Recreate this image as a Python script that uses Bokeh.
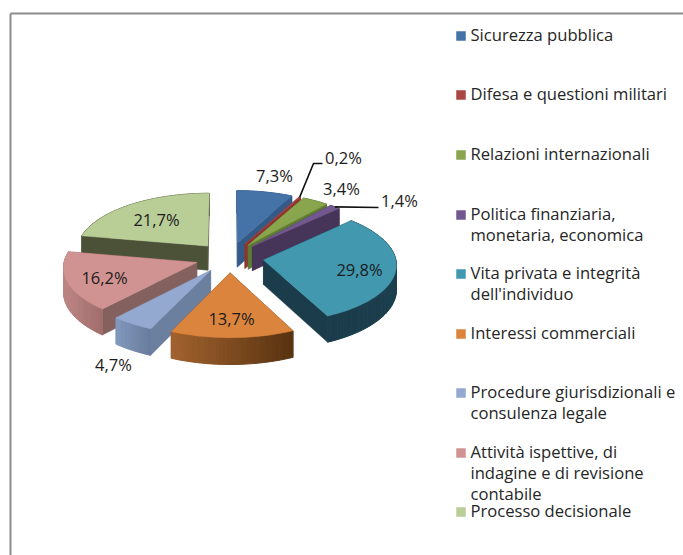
import math
from bokeh.plotting import figure
from bokeh.models import Range1d
from bokeh.core.properties import value
from bokeh.embed import file_html
from bokeh.resources import INLINE

# ---- data ----
categories = ["Sicurezza pubblica", "Difesa e questioni militari", "Relazioni internazionali",
              "Politica finanziaria, monetaria, economica", "Vita privata e integrità dell'individuo",
              "Interessi commerciali", "Procedure giurisdizionali e consulenza legale",
              "Attività ispettive, di indagine e di revisione contabile", "Processo decisionale"]
shares = [7.3, 0.2, 3.4, 1.4, 29.8, 13.7, 4.7, 16.2, 21.7]
share_labels = ["7,3%", "0,2%", "3,4%", "1,4%", "29,8%", "13,7%", "4,7%", "16,2%", "21,7%"]

# ---- styles ----
top_colors = ["#4572a7", "#aa4643", "#89a54e", "#71588f", "#4198af", "#db843d", "#93a9cf", "#d19392", "#b9cd96"]
side_colors = ["#345a88", "#8a3633", "#5f7a33", "#463459", "#1b3c4a", "#5a3510", "#6b7f9f", "#84605f", "#4c5238"]
rim_left = ["#345a88", "#8a3633", "#5f7a33", "#463459", "#1b3c4a", "#a2622e", "#8298bd", "#bd8685", "#4c5238"]
rim_right = ["#345a88", "#8a3633", "#5f7a33", "#463459", "#1c3f4e", "#573310", "#687b9c", "#a06d6c", "#4c5238"]

# ---- layout ----
W, H = 683, 555
CX, CY, RX, RY = 229.0, 257.0, 132.0, 58.0
EXPLODE, PERSP, DEPTH = 0.26, 0.07, 24.5
draw_order = [8, 0, 1, 2, 3, 4, 7, 6, 5]
label_pos = [(274, 175), (343, 157), (341, 188), (399, 200), (359, 269), (231, 318), (113, 364), (104, 277), (156, 219)]
legend_lines = [["Sicurezza pubblica"], ["Difesa e questioni militari"], ["Relazioni internazionali"],
                ["Politica finanziaria,", "monetaria, economica"], ["Vita privata e integrità", "dell'individuo"],
                ["Interessi commerciali"], ["Procedure giurisdizionali e", "consulenza legale"],
                ["Attività ispettive, di", "indagine e di revisione", "contabile"], ["Processo decisionale"]]
legend_y = [35, 94, 154, 214, 273, 333, 392, 452, 511]
LINE_H = 20.8
FONT = value("Open Sans")

p = figure(width=W, height=H, output_backend="svg", toolbar_location=None,
           x_range=Range1d(0, W), y_range=Range1d(H, 0),
           x_axis_type=None, y_axis_type=None, min_border=0, outline_line_color=None,
           background_fill_color="white", border_fill_color="white")
p.grid.visible = False


def proj(u, v, z=0.0):
    s = 1.0 / (1.0 - PERSP * v)
    return CX + RX * u * s, CY + RY * v * s + z * DEPTH * s


def mix(a, b, t):
    ca = [int(a[i:i + 2], 16) for i in (1, 3, 5)]
    cb = [int(b[i:i + 2], 16) for i in (1, 3, 5)]
    return "#%02x%02x%02x" % tuple(round(x + (y - x) * t) for x, y in zip(ca, cb))


total = sum(shares)
starts = [sum(shares[:i]) / total * 2 * math.pi for i in range(len(shares))]
rim_points = {}
for i in draw_order:
    a0 = starts[i]
    a1 = a0 + shares[i] / total * 2 * math.pi
    mid = (a0 + a1) / 2
    ox, oy = EXPLODE * math.sin(mid), -EXPLODE * math.cos(mid)
    n = max(2, int((a1 - a0) / math.radians(1.5)))
    arc = [(ox + math.sin(a0 + (a1 - a0) * k / n), oy - math.cos(a0 + (a1 - a0) * k / n)) for k in range(n + 1)]
    rim_points[i] = proj(ox + math.sin(mid), oy - math.cos(mid))

    # radial side faces
    for (u, v) in (arc[0], arc[-1]):
        pts = [(ox, oy, 0), (u, v, 0), (u, v, 1), (ox, oy, 1)]
        xy = [proj(*q) for q in pts]
        p.patch([q[0] for q in xy], [q[1] for q in xy], fill_color=side_colors[i],
                line_color=side_colors[i], line_width=0.5)

    # outer rim strips, shaded across the slice
    xs_all = [proj(u, v)[0] for u, v in arc]
    xmin, xmax = min(xs_all), max(xs_all)
    for k in range(n):
        (u0, v0), (u1, v1) = arc[k], arc[k + 1]
        xy = [proj(u0, v0, 0), proj(u1, v1, 0), proj(u1, v1, 1), proj(u0, v0, 1)]
        t = ((xy[0][0] + xy[1][0]) / 2 - xmin) / max(xmax - xmin, 1e-6)
        c = mix(rim_left[i], rim_right[i], t)
        p.patch([q[0] for q in xy], [q[1] for q in xy], fill_color=c, line_color=c, line_width=1.0)

    # top face
    poly = [(ox, oy)] + arc
    xy = [proj(u, v) for u, v in poly]
    p.patch([q[0] for q in xy], [q[1] for q in xy], fill_color=top_colors[i],
            line_color=top_colors[i], line_width=0.5)

# leader lines
p.line([rim_points[1][0], 313, 322], [rim_points[1][1], 163, 163], line_color="#111111", line_width=1.6)
p.line([rim_points[3][0], 378], [rim_points[3][1], 207], line_color="#111111", line_width=1.6)

# data labels
p.text(x=[q[0] for q in label_pos], y=[q[1] for q in label_pos], text=share_labels,
       text_font=FONT, text_font_size=value("16.5px"), text_color="#1c1c1c",
       text_align="center", text_baseline="middle")

# legend
for i, lines in enumerate(legend_lines):
    p.rect(x=[460.5], y=[legend_y[i] + 0.5], width=9.5, height=9.5, fill_color=top_colors[i], line_color=None)
    p.text(x=[470] * len(lines), y=[legend_y[i] - 1 + LINE_H * k for k in range(len(lines))], text=lines,
           text_font=FONT, text_font_size=value("16.6px"), text_color="#262626",
           text_align="left", text_baseline="middle")

# frame
p.line([10, 10], [H, 13], line_color="#8c8c8c", line_width=2)
p.line([10, W], [13, 13], line_color="#8c8c8c", line_width=2)

open("out.html", "w").write(file_html(p, INLINE))
